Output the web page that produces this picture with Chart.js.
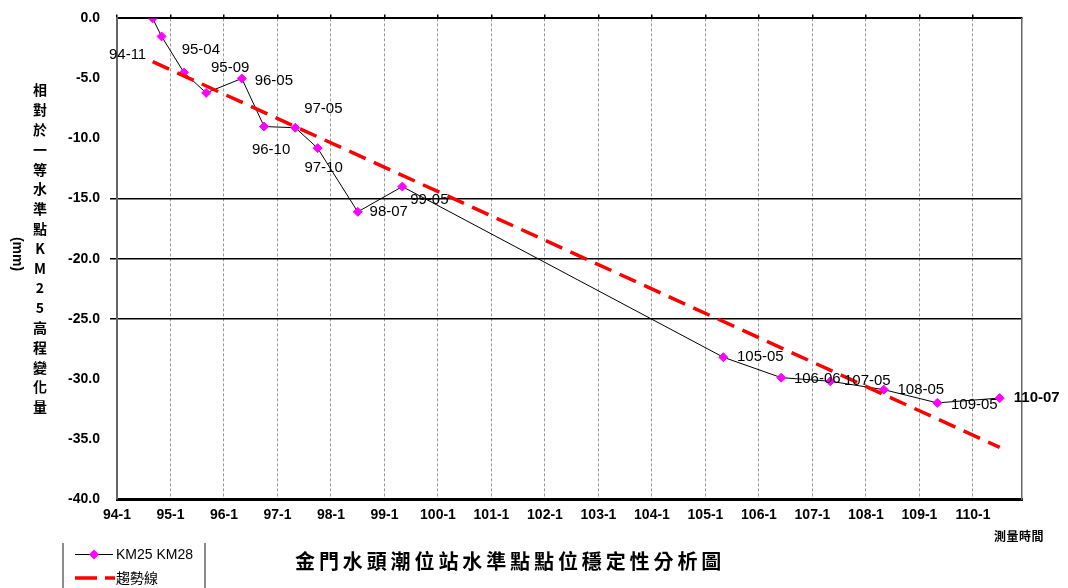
<!DOCTYPE html>
<html>
<head>
<meta charset="utf-8">
<script src="https://cdn.jsdelivr.net/npm/chart.js@4.4.1/dist/chart.umd.min.js"></script>
<style>
html, body { margin: 0; padding: 0; background: #fff; }
#wrap { width: 1068px; height: 588px; }
</style>
</head>
<body>
<div id="wrap"><canvas id="chart" width="1068" height="588"></canvas></div>
<script>
// survey dates (ROC year-month) and height change (mm)
const surveyDates = ['94-09', '94-11', '95-04', '95-09', '96-05', '96-10', '97-05', '97-10',
    '98-07', '99-05', '105-05', '106-06', '107-05', '108-05', '109-05', '110-07'];
const heightChange = [0.0, -1.5, -4.5, -6.2, -5.0, -9.0, -9.1, -10.8,
    -16.1, -14.0, -28.2, -29.9, -30.2, -30.9, -32.0, -31.6];
const pointLabels = ['', '94-11', '95-04', '95-09', '96-05', '96-10', '97-05', '97-10',
    '98-07', '99-05', '105-05', '106-06', '107-05', '108-05', '109-05', '110-07'];
const trendDates = ['94-09', '110-07'];
const trendValues = [-3.6, -35.7];
const xTickLabels = ['94-1', '95-1', '96-1', '97-1', '98-1', '99-1', '100-1', '101-1', '102-1',
    '103-1', '104-1', '105-1', '106-1', '107-1', '108-1', '109-1', '110-1'];

// where each point label sits relative to its marker
const labelOffsets = [[0, 0], [-34, 18], [17, -23], [24, -25], [32, 2], [7, 23], [28, -19], [6, 20],
    [31, 0], [27, 13], [37, 0], [36, 1], [37, 0], [37, 0], [37, 2], [37, 0]];

const LATIN = '"Liberation Sans", Arial, sans-serif';
const CJK = '"Noto Sans CJK TC", sans-serif';

function monthIndex(str) {
    const [y, m] = str.split('-').map(Number);
    return (y - 94) * 12 + (m - 1);
}

const yearTicks = xTickLabels.map(monthIndex);

const extraText = {
    id: 'extraText',
    afterDatasetsDraw(chart) {
        const ctx = chart.ctx;
        const meta = chart.getDatasetMeta(1);
        ctx.save();
        ctx.fillStyle = '#000';
        ctx.textAlign = 'center';
        ctx.textBaseline = 'middle';
        pointLabels.forEach((lbl, i) => {
            if (!lbl) return;
            const pt = meta.data[i];
            ctx.font = (i === pointLabels.length - 1 ? 'bold ' : '') + '15px ' + LATIN;
            ctx.fillText(lbl, pt.x + labelOffsets[i][0], pt.y + labelOffsets[i][1]);
        });
        ctx.restore();
    },
    afterDraw(chart) {
        const ctx = chart.ctx;
        ctx.save();
        ctx.fillStyle = '#000';
        ctx.textAlign = 'center';
        ctx.textBaseline = 'middle';

        // y-axis title, stacked
        ctx.font = 'bold 14px ' + CJK;
        const yTitle = '相對於一等水準點KM25高程變化量';
        [...yTitle].forEach((ch, i) => ctx.fillText(ch, 40, 90 + i * 19.8));
        ctx.save();
        ctx.translate(17, 254);
        ctx.rotate(Math.PI / 2);
        ctx.font = 'bold 14px ' + LATIN;
        ctx.fillText('(mm)', 0, 0);
        ctx.restore();

        // chart title
        ctx.font = 'bold 20px ' + CJK;
        [...'金門水頭潮位站水準點點位穩定性分析圖'].forEach((ch, i) => ctx.fillText(ch, 305 + i * 23.9, 561));

        // x-axis title
        ctx.font = 'bold 12px ' + CJK;
        [...'測量時間'].forEach((ch, i) => ctx.fillText(ch, 1000 + i * 12.5, 536));

        // legend box
        ctx.strokeStyle = '#666';
        ctx.lineWidth = 1.5;
        ctx.beginPath();
        ctx.moveTo(63, 543); ctx.lineTo(63, 588);
        ctx.moveTo(205, 543); ctx.lineTo(205, 588);
        ctx.stroke();

        ctx.strokeStyle = '#000';
        ctx.lineWidth = 1;
        ctx.beginPath();
        ctx.moveTo(75, 554.5); ctx.lineTo(113, 554.5);
        ctx.stroke();
        ctx.fillStyle = '#ff00ff';
        ctx.beginPath();
        ctx.moveTo(94, 549.5); ctx.lineTo(99, 554.5); ctx.lineTo(94, 559.5); ctx.lineTo(89, 554.5);
        ctx.closePath();
        ctx.fill();

        ctx.strokeStyle = '#ff0000';
        ctx.lineWidth = 3.5;
        ctx.setLineDash([22, 8]);
        ctx.beginPath();
        ctx.moveTo(75, 578); ctx.lineTo(115, 578);
        ctx.stroke();
        ctx.setLineDash([]);

        ctx.fillStyle = '#000';
        ctx.textAlign = 'left';
        ctx.font = '14px ' + LATIN;
        ctx.fillText('KM25 KM28', 116, 555);
        ctx.font = '14px ' + CJK;
        ctx.fillText('趨勢線', 116, 578);
        ctx.restore();
    }
};

const ctx = document.getElementById('chart').getContext('2d');
new Chart(ctx, {
    type: 'line',
    data: {
        datasets: [{
            label: '趨勢線',
            data: trendDates.map((d, i) => ({ x: monthIndex(d), y: trendValues[i] })),
            borderColor: '#ff0000',
            borderWidth: 3.5,
            borderDash: [18, 9],
            pointRadius: 0,
            fill: false
        }, {
            label: 'KM25 KM28',
            data: surveyDates.map((d, i) => ({ x: monthIndex(d), y: heightChange[i] })),
            borderColor: '#000',
            borderWidth: 1,
            pointStyle: 'rectRot',
            pointRadius: 4.5,
            pointBackgroundColor: '#ff00ff',
            pointBorderColor: '#ff00ff',
            pointBorderWidth: 1,
            tension: 0,
            fill: false
        }]
    },
    options: {
        responsive: false,
        animation: false,
        devicePixelRatio: 1,
        layout: { padding: { left: 0, right: 46, top: 0, bottom: 0 } },
        plugins: {
            legend: { display: false },
            tooltip: { enabled: false }
        },
        scales: {
            x: {
                type: 'linear',
                position: 'bottom',
                min: 0,
                max: 203,
                afterBuildTicks: scale => { scale.ticks = yearTicks.map(v => ({ value: v })); },
                afterFit: scale => { scale.height = 89; },
                ticks: {
                    autoSkip: false,
                    maxRotation: 0,
                    padding: 8,
                    color: '#000',
                    font: { family: LATIN, size: 14, weight: 'bold' },
                    callback: v => xTickLabels[yearTicks.indexOf(v)]
                },
                grid: { color: '#999', lineWidth: 1, drawTicks: false },
                border: { color: '#000', width: 3, dash: [3, 2] }
            },
            xTop: {
                type: 'linear',
                position: 'top',
                min: 0,
                max: 203,
                afterBuildTicks: scale => { scale.ticks = yearTicks.map(v => ({ value: v })); },
                afterFit: scale => { scale.height = 17; },
                ticks: { display: false },
                grid: { drawOnChartArea: false, drawTicks: true, tickLength: 4, color: '#000', lineWidth: 1.5 },
                border: { color: '#000', width: 2 }
            },
            y: {
                min: -40,
                max: 0,
                afterFit: scale => { scale.width = 117; },
                ticks: {
                    stepSize: 5,
                    padding: 10,
                    color: '#000',
                    font: { family: LATIN, size: 14, weight: 'bold' },
                    callback: v => v.toFixed(1)
                },
                grid: {
                    color: c => [-15, -20, -25].includes(c.tick && c.tick.value) ? '#000' : 'rgba(0,0,0,0)',
                    lineWidth: 1.5,
                    tickLength: 7
                },
                border: { color: '#666', width: 2 }
            },
            yRight: {
                position: 'right',
                min: -40,
                max: 0,
                afterFit: scale => { scale.width = 0; },
                ticks: { display: false },
                grid: { drawOnChartArea: false, drawTicks: false },
                border: { color: '#666', width: 1.5 }
            }
        }
    },
    plugins: [extraText]
});
</script>
</body>
</html>
